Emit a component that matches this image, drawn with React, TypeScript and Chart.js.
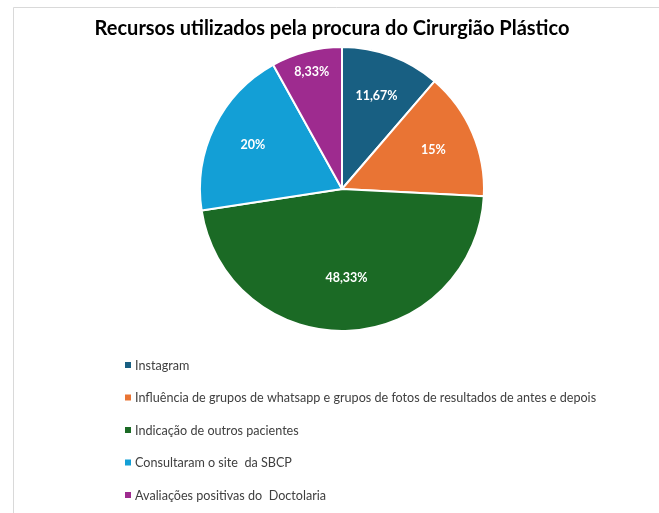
import React, { useEffect, useRef } from "react";
import { Chart, registerables } from "chart.js";

Chart.register(...registerables);

const TITLE = "Recursos utilizados pela procura do Cirurgião Plástico";
const CATEGORIES = [
  "Instagram",
  "Influência de grupos de whatsapp e grupos de fotos de resultados de antes e depois",
  "Indicação de outros pacientes",
  "Consultaram o site  da SBCP",
  "Avaliações positivas do  Doctolaria",
];
const VALUES = [11.67, 15, 48.33, 20, 8.33];
const COLORS = ["#185f82", "#e97434", "#1b6a25", "#139fd6", "#9e2b8f"];

const FONT = "Lato, 'Open Sans', sans-serif";

const labelRadius = [0.7, 0.7, 0.63, 0.7, 0.85];

const framePlugin = {
  id: "frame",
  beforeDraw(chart: any) {
    const ctx = chart.ctx;
    ctx.save();
    ctx.fillStyle = "#ffffff";
    ctx.fillRect(0, 0, chart.width, chart.height);
    ctx.strokeStyle = "#d9d9d9";
    ctx.lineWidth = 1;
    ctx.beginPath();
    ctx.moveTo(13.5, chart.height);
    ctx.lineTo(13.5, 7.5);
    ctx.lineTo(chart.width, 7.5);
    ctx.stroke();
    // title
    ctx.fillStyle = "#000000";
    ctx.font = `bold 20px ${FONT}`;
    ctx.textAlign = "center";
    ctx.textBaseline = "middle";
    ctx.fillText(TITLE, 332, 29);
    ctx.restore();
  },
  afterDraw(chart: any) {
    const ctx = chart.ctx;
    ctx.save();
    ctx.font = `12.6px ${FONT}`;
    ctx.textAlign = "left";
    ctx.textBaseline = "middle";
    const rows = [365, 397.5, 430, 462.5, 495];
    CATEGORIES.forEach((c, i) => {
      const y = rows[i];
      ctx.fillStyle = COLORS[i];
      ctx.fillRect(125, y - 3, 6, 6);
      ctx.fillStyle = "#404040";
      ctx.fillText(c, 135, y + 0.5);
    });
    ctx.restore();
  },
};

const labelPlugin = {
  id: "sliceLabels",
  afterDatasetsDraw(chart: any) {
    const ctx = chart.ctx;
    const meta = chart.getDatasetMeta(0);
    ctx.save();
    ctx.font = `bold 12.5px ${FONT}`;
    ctx.fillStyle = "#ffffff";
    ctx.textAlign = "center";
    ctx.textBaseline = "middle";
    meta.data.forEach((arc: any, i: number) => {
      const p = arc.getProps(["x", "y", "startAngle", "endAngle", "outerRadius"], true);
      const mid = (p.startAngle + p.endAngle) / 2;
      const r = p.outerRadius * labelRadius[i];
      const txt = String(VALUES[i]).replace(".", ",") + "%";
      ctx.fillText(txt, p.x + Math.cos(mid) * r, p.y + Math.sin(mid) * r);
    });
    ctx.restore();
  },
};

export default function App() {
  const ref = useRef<HTMLCanvasElement | null>(null);
  useEffect(() => {
    if (!ref.current) return;
    const chart = new Chart(ref.current, {
      type: "pie",
      data: {
        labels: CATEGORIES,
        datasets: [
          {
            data: VALUES,
            backgroundColor: COLORS,
            borderColor: "#ffffff",
            borderWidth: 2,
          },
        ],
      },
      options: {
        responsive: false,
        animation: false,
        layout: { padding: { left: 197, right: 172, top: 46, bottom: 181 } },
        plugins: {
          legend: { display: false },
          title: { display: false },
          tooltip: { enabled: false },
        },
      },
      plugins: [framePlugin, labelPlugin],
    });
    return () => chart.destroy();
  }, []);
  return (
    <div style={{ position: "fixed", left: 0, top: 0, width: 659, height: 513 }}>
      <canvas ref={ref} width={659} height={513} style={{ display: "block" }} />
    </div>
  );
}
